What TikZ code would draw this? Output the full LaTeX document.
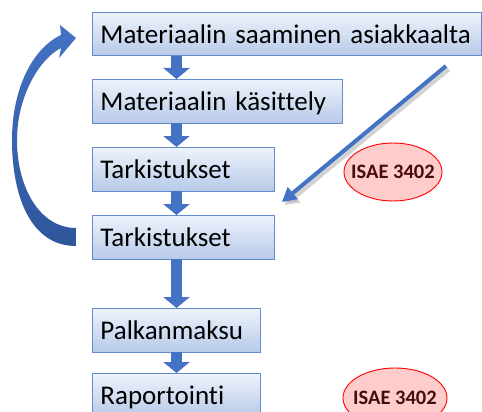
\documentclass[tikz,border=0pt]{standalone}
\usepackage{fontspec}
\setmainfont[Ligatures=NoCommon]{Carlito}
\usetikzlibrary{arrows.meta}

\definecolor{boxtop}{RGB}{238,243,251}
\definecolor{boxbot}{RGB}{183,202,233}
\definecolor{boxline}{RGB}{100,138,205}
\definecolor{flowblue}{RGB}{68,114,196}
\definecolor{flowdark}{RGB}{47,86,155}
\definecolor{isaefill}{RGB}{255,204,204}
\definecolor{isaetext}{RGB}{70,12,12}

\begin{document}
\begin{tikzpicture}[x=1pt,y=-1pt,
  stepbox/.style={draw=boxline,line width=0.9pt,top color=boxtop,bottom color=boxbot,
    anchor=north west,inner xsep=8pt,inner ysep=4pt,text height=27.5pt,text depth=8pt,
    align=left,font=\fontsize{27}{31}\selectfont},
  isaeoval/.style={draw=red,line width=0.9pt,fill=isaefill},
  isae/.style={text=isaetext,inner sep=0pt,font=\fontsize{20.5}{24}\selectfont\bfseries},
  down/.style={flowblue,line width=11pt,-{Triangle[width=26pt,length=11pt]}}]
\useasboundingbox (0,0) rectangle (482,412);

% the steps
\node[stepbox,text width=373pt] (b1) at (92,12) {Materiaalin saaminen asiakkaalta};
\node[stepbox,text width=234pt] (b2) at (92,79) {Materiaalin käsittely};
\node[stepbox,text width=166pt] (b3) at (92,147) {Tarkistukset};
\node[stepbox,text width=166pt] (b4) at (92,215) {Tarkistukset};
\node[stepbox,text width=152pt] (b5) at (92,308) {Palkanmaksu};
\node[stepbox,text width=152pt] (b6) at (92,373) {Raportointi};

% arrows between steps
\draw[down] ([xshift=84.5pt]b1.south west) -- ([xshift=84.5pt]b2.north west);
\draw[down] ([xshift=84.5pt]b2.south west) -- ([xshift=84.5pt]b3.north west);
\draw[down] ([xshift=84.5pt]b3.south west) -- ([xshift=84.5pt]b4.north west);
\draw[down] ([xshift=84.5pt]b4.south west) -- ([xshift=84.5pt]b5.north west);
\draw[down] ([xshift=84.5pt]b5.south west) -- ([xshift=84.5pt]b6.north west);

% ISAE labels
\draw[isaeoval] (393,172) ellipse [x radius=49, y radius=29];
\node[isae] (i1) at (393,172) {ISAE 3402};
\draw[isaeoval] (395,398) ellipse [x radius=52, y radius=30];
\node[isae] (i2) at (395,398) {ISAE 3402};

% diagonal arrow with shadow
\coordinate (diagfrom) at (446,66);
\coordinate (diagto) at (282,202);
\draw[black!35,opacity=0.5,line width=5pt,-{Triangle[width=16pt,length=14pt]}]
  ([shift={(2.5,3)}]diagfrom) -- ([shift={(2.5,3)}]diagto);
\draw[flowblue,line width=4pt,-{Triangle[width=15pt,length=14pt]}] (diagfrom) -- (diagto);

% curved return arrow
\shade[top color=flowblue,bottom color=flowdark]
  (76,246) .. controls (30,246) and (12,195) .. (12,140)
  .. controls (12,88) and (33,48) .. (61,35) -- (60,25) -- (76,38) -- (59,58) -- (61,48)
  .. controls (38,60) and (17,98) .. (17,140)
  .. controls (17,188) and (40,228) .. (76,228) -- cycle;

\end{tikzpicture}
\end{document}
